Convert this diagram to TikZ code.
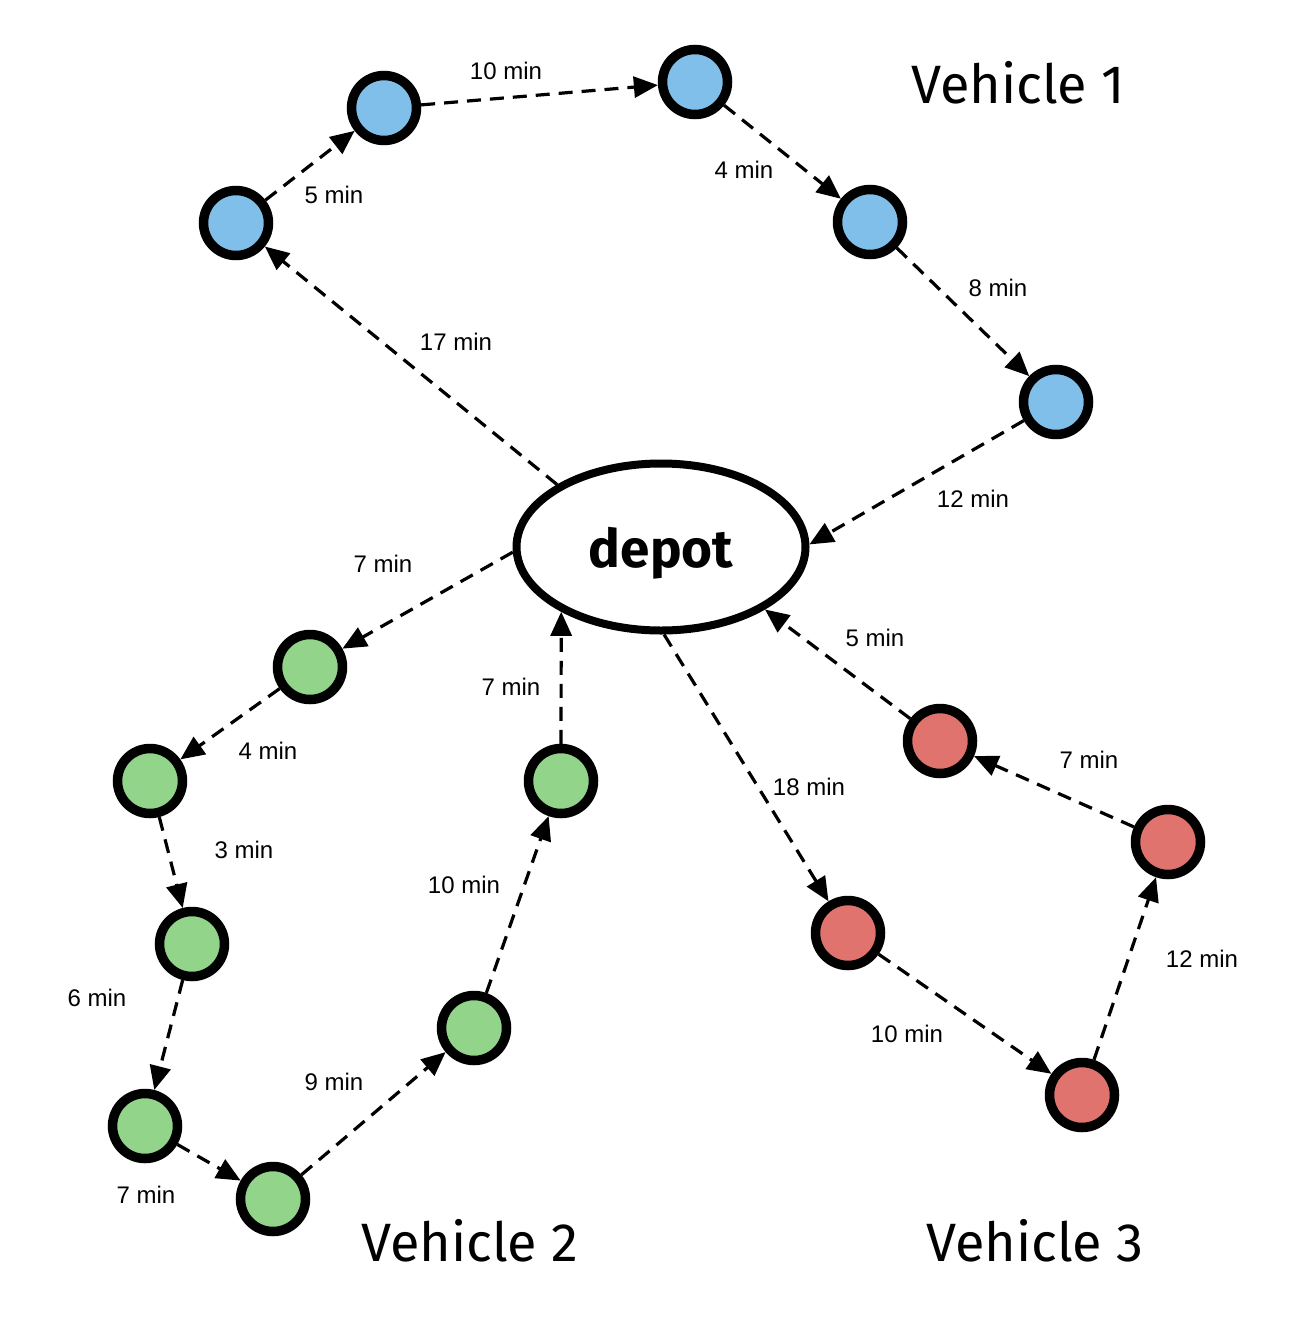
\documentclass[tikz,border=0pt]{standalone}
\usepackage{fontspec}
\setmainfont{Liberation Sans}
\newfontfamily\vfont{Fira Sans}
\usetikzlibrary{shapes.geometric,arrows.meta}
\definecolor{cblue}{HTML}{7FBFEA}
\definecolor{cgreen}{HTML}{92D48A}
\definecolor{cred}{HTML}{E0736E}
\begin{document}
\begin{tikzpicture}[x=1pt,y=-1pt,
  stop/.style={circle,draw=black,line width=9.5pt,minimum size=65pt,inner sep=0pt},
  bstop/.style={stop,fill=cblue},
  gstop/.style={stop,fill=cgreen},
  rstop/.style={stop,fill=cred},
  leg/.style={line width=3.2pt,dash pattern=on 14pt off 9pt,-{Triangle[length=24pt,width=21pt]}},
  tlabel/.style={font=\fontsize{24}{27}\selectfont},
  vlabel/.style={font=\vfont\fontsize{54}{60}\selectfont}]
\useasboundingbox[fill=white] (0,0) rectangle (1306,1325);
% depot
\node[ellipse,draw=black,line width=8pt,minimum width=289pt,minimum height=167pt,inner sep=0pt,fill=white,
  font=\vfont\bfseries\fontsize{53}{60}\selectfont] (depot) at (661,547) {\raisebox{-6pt}[\height][\depth]{depot}};
% vehicle 1
\node[bstop] (b1) at (236,223) {};
\node[bstop] (b2) at (384,108) {};
\node[bstop] (b3) at (695,82) {};
\node[bstop] (b4) at (870,222) {};
\node[bstop] (b5) at (1056,402) {};
% vehicle 2
\node[gstop] (g1) at (310,667) {};
\node[gstop] (g2) at (150,781) {};
\node[gstop] (g3) at (192,944) {};
\node[gstop] (g4) at (145,1126) {};
\node[gstop] (g5) at (273,1199) {};
\node[gstop] (g6) at (474,1028) {};
\node[gstop] (g7) at (561,781) {};
% vehicle 3
\node[rstop] (r1) at (940,741) {};
\node[rstop] (r2) at (1168,842) {};
\node[rstop] (r3) at (848,933) {};
\node[rstop] (r4) at (1082,1095) {};
% legs vehicle 1
\draw[leg] (depot.149) -- (b1);
\draw[leg] (b1) -- (b2);
\draw[leg] (b2) -- (b3);
\draw[leg] (b3) -- (b4);
\draw[leg] (b4) -- (b5);
\draw[leg] (b5) -- (depot.1);
% legs vehicle 2
\draw[leg] (depot.182) -- (g1);
\draw[leg] (g1) -- (g2);
\draw[leg] (g2) -- (g3);
\draw[leg] (g3) -- (g4);
\draw[leg] (g4) -- (g5);
\draw[leg] (g5) -- (g6);
\draw[leg] (g6) -- (g7);
\draw[leg] (g7) -- (depot.213);
% legs vehicle 3
\draw[leg] (depot.272) -- (r3);
\draw[leg] (r3) -- (r4);
\draw[leg] (r4) -- (r2);
\draw[leg] (r2) -- (r1);
\draw[leg] (r1) -- (depot.329);
% time labels
\node[tlabel] (t1) at (506,71) {10 min};
\node[tlabel] (t2) at (334,195) {5 min};
\node[tlabel] (t3) at (744,170) {4 min};
\node[tlabel] (t4) at (998,288) {8 min};
\node[tlabel] (t5) at (456,342) {17 min};
\node[tlabel] (t6) at (973,499) {12 min};
\node[tlabel] (t7) at (383,564) {7 min};
\node[tlabel] (t8) at (268,751) {4 min};
\node[tlabel] (t9) at (511,687) {7 min};
\node[tlabel] (t10) at (875,638) {5 min};
\node[tlabel] (t11) at (1089,760) {7 min};
\node[tlabel] (t12) at (809,787) {18 min};
\node[tlabel] (t13) at (244,850) {3 min};
\node[tlabel] (t14) at (464,885) {10 min};
\node[tlabel] (t15) at (1202,959) {12 min};
\node[tlabel] (t16) at (97,998) {6 min};
\node[tlabel] (t17) at (907,1034) {10 min};
\node[tlabel] (t18) at (334,1082) {9 min};
\node[tlabel] (t19) at (146,1195) {7 min};
% vehicle labels
\node[vlabel] (v1) at (1018,83) {Vehicle 1};
\node[vlabel] (v2) at (470,1241) {Vehicle 2};
\node[vlabel] (v3) at (1035,1241) {Vehicle 3};
\end{tikzpicture}
\end{document}
